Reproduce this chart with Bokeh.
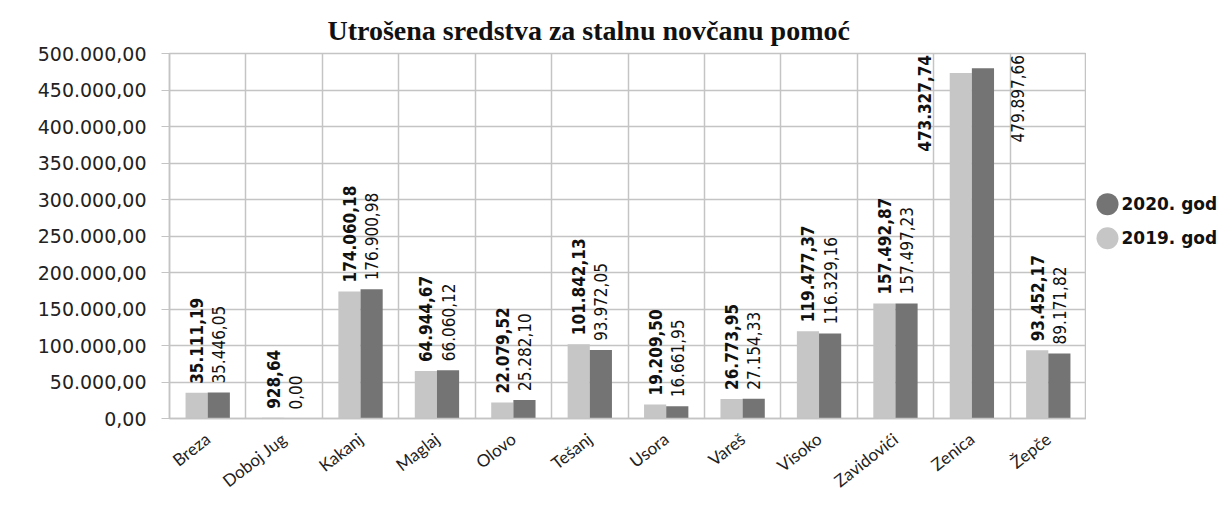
import math
from bokeh.plotting import figure
from bokeh.models import FixedTicker, ColumnDataSource, Range1d
from bokeh.layouts import row
from bokeh.embed import file_html
from bokeh.resources import INLINE
from bokeh.core.properties import value, field

# ---------------- data ----------------
categories = ["Breza", "Doboj Jug", "Kakanj", "Maglaj", "Olovo", "Tešanj",
              "Usora", "Vareš", "Visoko", "Zavidovići", "Zenica", "Žepče"]
values_2019 = [35111.19, 928.64, 174060.18, 64944.67, 22079.52, 101842.13,
               19209.50, 26773.95, 119477.37, 157492.87, 473327.74, 93452.17]
values_2020 = [35446.05, 0.00, 176900.98, 66060.12, 25282.10, 93972.05,
               16661.95, 27154.33, 116329.16, 157497.23, 479897.66, 89171.82]
y_ticks = [0, 50000, 100000, 150000, 200000, 250000, 300000, 350000, 400000, 450000, 500000]
y_tick_labels = ["0,00", "50.000,00", "100.000,00", "150.000,00", "200.000,00", "250.000,00",
                 "300.000,00", "350.000,00", "400.000,00", "450.000,00", "500.000,00"]
series_names = ["2020. god", "2019. god"]
title_text = "Utrošena sredstva za stalnu novčanu pomoć"

# ---------------- style ----------------
LIGHT = "#c6c6c6"
DARK = "#747474"
GRID = "#c4c4c4"
YMAX = 500000
FRAME_H = 365  # px

def fmt(v):
    s = f"{v:,.2f}"
    return s.replace(",", "X").replace(".", ",").replace("X", ".")

n = len(categories)
bw = 0.29
x19 = [i + 0.5 - bw / 2 for i in range(n)]
x20 = [i + 0.5 + bw / 2 for i in range(n)]

p = figure(width=1086, height=504, x_range=Range1d(0, n), y_range=Range1d(0, YMAX),
           output_backend="svg", toolbar_location=None,
           min_border_left=169, min_border_right=0, min_border_top=53, min_border_bottom=86)
p.background_fill_color = "white"
p.border_fill_color = "white"
p.outline_line_color = GRID
p.outline_line_width = 1.5

p.title.text = title_text
p.title.text_font = "Liberation Serif"
p.title.text_font_style = "bold"
p.title.text_font_size = "28px"
p.title.text_color = "#111111"
p.title.align = "left"
p.title.offset = 158
p.title.standoff = 16

# grids
p.xgrid.ticker = FixedTicker(ticks=list(range(0, n + 1)))
p.xgrid.grid_line_color = GRID
p.xgrid.grid_line_width = 1.5
p.ygrid.ticker = FixedTicker(ticks=y_ticks)
p.ygrid.grid_line_color = GRID
p.ygrid.grid_line_width = 1.5

# axes
p.yaxis.ticker = FixedTicker(ticks=y_ticks)
p.yaxis.major_label_overrides = {t: l for t, l in zip(y_ticks, y_tick_labels)}
p.yaxis.axis_line_color = GRID
p.yaxis.axis_line_width = 1.5
p.yaxis.major_tick_line_color = GRID
p.yaxis.major_tick_out = 8
p.yaxis.major_tick_in = 0
p.yaxis.minor_tick_line_color = None
p.yaxis.major_label_standoff = 15
p.yaxis.major_label_text_font = "DejaVu Sans"
p.yaxis.major_label_text_font_size = "19px"
p.yaxis.major_label_text_color = "#222222"

p.xaxis.ticker = FixedTicker(ticks=[i + 0.5 for i in range(n)])
p.xaxis.major_label_overrides = {i + 0.5: c for i, c in enumerate(categories)}
p.xaxis.axis_line_color = GRID
p.xaxis.axis_line_width = 1.5
p.xaxis.major_tick_line_color = None
p.xaxis.minor_tick_line_color = None
p.xaxis.major_label_orientation = math.radians(38)
p.xaxis.major_label_standoff = 12
p.xaxis.major_label_text_font = "Lato"
p.xaxis.major_label_text_font_size = "17px"
p.xaxis.major_label_text_color = "#222222"

# bars
p.vbar(x=x19, top=values_2019, width=bw, bottom=0, fill_color=LIGHT, line_color=None)
p.vbar(x=x20, top=values_2020, width=bw, bottom=0, fill_color=DARK, line_color=None)

# data labels
pad = 9 / FRAME_H * YMAX
label_len = 85 / FRAME_H * YMAX
top_anchor = YMAX - 1.5 / FRAME_H * YMAX

def label_source(xs, vals, side_shift):
    lx, ly, lt, la = [], [], [], []
    for x, v in zip(xs, vals):
        if v + pad + label_len > YMAX:
            lx.append(x + side_shift)
            ly.append(top_anchor)
            la.append("right")
        else:
            lx.append(x)
            ly.append(v + pad)
            la.append("left")
        lt.append(fmt(v))
    return ColumnDataSource(dict(x=lx, y=ly, t=lt, a=la))

narrow = value("DejaVu Sans Condensed, Liberation Sans Narrow, Liberation Sans, sans-serif")
p.text(x="x", y="y", text="t", source=label_source(x19, values_2019, -0.47),
       angle=math.pi / 2, text_align=field("a"), text_baseline="middle",
       text_font=narrow, text_font_style="bold", text_font_size="17px", text_color="#111111")
p.text(x="x", y="y", text="t", source=label_source(x20, values_2020, 0.45),
       angle=math.pi / 2, text_align=field("a"), text_baseline="middle",
       text_font=narrow, text_font_style="normal", text_font_size="17px", text_color="#111111")

# ---------------- legend panel ----------------
lg = figure(width=142, height=504, x_range=Range1d(0, 142), y_range=Range1d(0, 504),
            output_backend="svg", toolbar_location=None,
            x_axis_location=None, y_axis_location=None,
            min_border_left=0, min_border_right=0, min_border_top=0, min_border_bottom=0)
lg.grid.visible = False
lg.outline_line_color = None
lg.background_fill_color = "white"
lg.border_fill_color = "white"
leg_y = [296, 249]
lg.scatter(x=[21, 21], y=leg_y, size=22, marker="circle",
           fill_color=[DARK, LIGHT], line_color=None)
lg.text(x=[35, 35], y=leg_y, text=series_names, text_baseline="middle", text_align="left",
        text_font=value("DejaVu Sans"), text_font_style="bold", text_font_size="17px",
        text_color="#111111")

layout = row(p, lg)
open("out.html", "w").write(file_html(layout, INLINE))
